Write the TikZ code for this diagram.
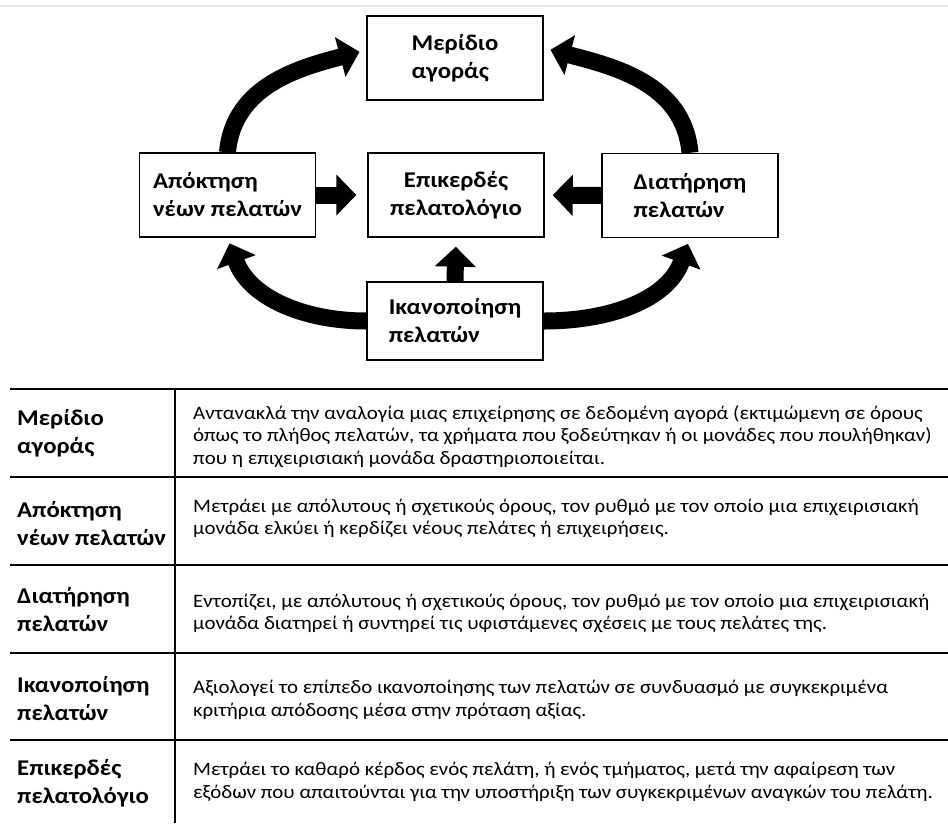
\documentclass[tikz,border=0pt]{standalone}
\usepackage{fontspec}
\setmainfont{Carlito}[FakeStretch=1.1]
\usetikzlibrary{arrows.meta}

\begin{document}
\begin{tikzpicture}[x=1pt,y=-1pt]
    \tikzset{BoxStyle/.style={draw, line width=1.4pt, minimum width=176pt, minimum height=84pt,
        inner sep=0pt, align=left, font=\fontsize{22.5}{28}\selectfont\bfseries}}
    \tikzset{ArrowStyle/.style={line width=17pt, -{Triangle[length=20pt,width=40pt]}}}
    \tikzset{LabelStyle/.style={anchor=west, inner sep=0pt, align=left, font=\fontsize{22.5}{28}\selectfont\bfseries}}
    \tikzset{TextStyle/.style={anchor=west, inner sep=0pt, align=left, font=\fontsize{19}{22.5}\selectfont}}
    \tikzset{RuleStyle/.style={line width=1.6pt}}

    \useasboundingbox (0,0) rectangle (948,823);
    \draw[black!10, line width=2pt] (0,6) -- (948,6);

    \node[BoxStyle] (M) at (455,58) {Μερίδιο\\αγοράς};
    \node[BoxStyle] (A) at (227.5,195) {Απόκτηση\\νέων πελατών};
    \node[BoxStyle, align=center] (E) at (456,195) {Επικερδές\\πελατολόγιο};
    \node[BoxStyle] (D) at (690,195.5) {Διατήρηση\\πελατών};
    \node[BoxStyle, minimum height=78pt] (I) at (455,321) {Ικανοποίηση\\πελατών};

    \draw[ArrowStyle, shorten >=11pt] (A.east) -- (E.west);
    \draw[ArrowStyle, shorten >=8pt] (D.west) -- (E.east);
    \draw[ArrowStyle, shorten >=9pt] (I.north) -- (E.south);
    \draw[ArrowStyle, shorten >=7pt] (A.north) to[out=85,in=195] ([yshift=8pt]M.west);
    \draw[ArrowStyle, shorten >=7pt] (D.north) to[out=95,in=-15] ([yshift=10pt]M.east);
    \draw[ArrowStyle, shorten >=6pt] (I.west) to[out=180,in=-70] (A.south);
    \draw[ArrowStyle, shorten >=6pt] (I.east) to[out=0,in=-110] (D.south);

    \foreach \y in {389,477,565,653,740}
        \draw[RuleStyle] (10,\y) -- (948,\y);
    \draw[RuleStyle] (175,389) -- (175,823);

    \node[LabelStyle] (LM) at (17,433) {Μερίδιο\\αγοράς};
    \node[LabelStyle] (LA) at (17,524) {Απόκτηση\\νέων πελατών};
    \node[LabelStyle] (LD) at (17,610) {Διατήρηση\\πελατών};
    \node[LabelStyle] (LI) at (17,699) {Ικανοποίηση\\πελατών};
    \node[LabelStyle] (LE) at (17,783) {Επικερδές\\πελατολόγιο};

    \node[TextStyle] (TM) at (193,436.5) {Αντανακλά την αναλογία μιας επιχείρησης σε δεδομένη αγορά (εκτιμώμενη σε όρους\\
        όπως το πλήθος πελατών, τα χρήματα που ξοδεύτηκαν ή οι μονάδες που πουλήθηκαν)\\
        που η επιχειρισιακή μονάδα δραστηριοποιείται.};
    \node[TextStyle] (TA) at (193,518.5) {Μετράει με απόλυτους ή σχετικούς όρους, τον ρυθμό με τον οποίο μια επιχειρισιακή\\
        μονάδα ελκύει ή κερδίζει νέους πελάτες ή επιχειρήσεις.};
    \node[TextStyle] (TD) at (193,613.5) {Εντοπίζει, με απόλυτους ή σχετικούς όρους, τον ρυθμό με τον οποίο μια επιχειρισιακή\\
        μονάδα διατηρεί ή συντηρεί τις υφιστάμενες σχέσεις με τους πελάτες της.};
    \node[TextStyle] (TI) at (193,700) {Αξιολογεί το επίπεδο ικανοποίησης των πελατών σε συνδυασμό με συγκεκριμένα\\
        κριτήρια απόδοσης μέσα στην πρόταση αξίας.};
    \node[TextStyle] (TE) at (193,782) {Μετράει το καθαρό κέρδος ενός πελάτη, ή ενός τμήματος, μετά την αφαίρεση των\\
        εξόδων που απαιτούνται για την υποστήριξη των συγκεκριμένων αναγκών του πελάτη.};
\end{tikzpicture}
\end{document}
